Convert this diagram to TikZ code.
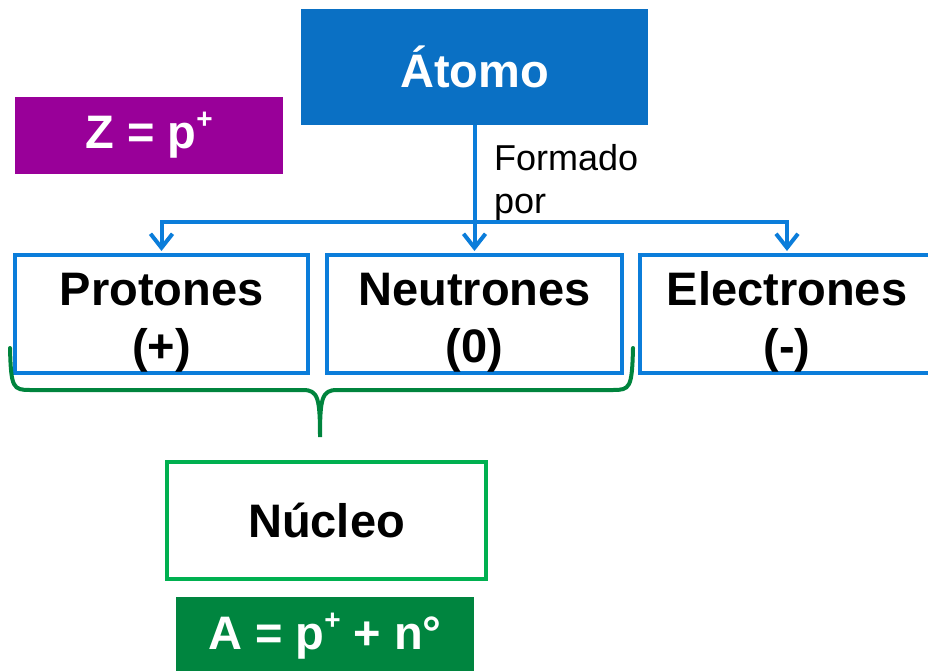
\documentclass[tikz,border=0pt]{standalone}
\usepackage{fontspec}
\setmainfont{Liberation Sans}
\usetikzlibrary{arrows.meta}
\definecolor{atomblue}{HTML}{0A70C4}
\definecolor{lineblue}{HTML}{0B7DDA}
\definecolor{bracegreen}{HTML}{00843D}
\definecolor{nucgreen}{HTML}{00B050}
\definecolor{agreen}{HTML}{00853F}
\definecolor{zpurple}{HTML}{990099}
\newcommand{\supplus}{\raisebox{0.42em}{\fontsize{28}{28}\selectfont +}}
\newcommand{\toppad}{\rule{0pt}{49pt}}
\begin{document}
\begin{tikzpicture}[x=1pt,y=-1pt,
  bigtxt/.style={font=\fontsize{47}{57}\selectfont\bfseries},
  partbox/.style={draw=lineblue, line width=4pt, fill=white, minimum height=118pt, inner sep=0pt, align=center, bigtxt},
  arr/.style={draw=lineblue, line width=4pt, -{Straight Barb[length=14pt,width=22pt,line width=4pt]}},
  filledbox/.style={inner sep=0pt, text=white, bigtxt}
]
\useasboundingbox (0,0) rectangle (928,671);
\node[filledbox, fill=atomblue, minimum width=347pt, minimum height=116pt] (atomo) at (474.5,67) {Átomo};
\node[filledbox, fill=zpurple, minimum width=268pt, minimum height=77pt] (z) at (149,135.5) {Z = p\supplus};
\node[partbox, minimum width=293pt] (protones) at (161.5,314) {\toppad Protones\\(+)};
\node[partbox, minimum width=295pt] (neutrones) at (474.5,314) {\toppad Neutrones\\(0)};
\node[partbox, minimum width=294pt] (electrones) at (787,314) {\toppad Electrones\\(-)};
\node[draw=nucgreen, line width=4pt, fill=white, minimum width=319pt, minimum height=117pt, inner sep=0pt, bigtxt] (nucleo) at (326.5,520) {Núcleo};
\node[filledbox, fill=agreen, minimum width=298pt, minimum height=78pt] (a) at (325,636) {A = p\supplus{} + n°};
\node[anchor=base west, align=left, inner sep=0pt, font=\fontsize{36}{43}\selectfont] (formado) at (494,213) {Formado\\por};
\coordinate (j) at (474.5,222);
\draw[arr, shorten >=2pt] (atomo.south) -- (neutrones.north);
\draw[arr, shorten >=2pt] (j) -| (protones.north);
\draw[arr, shorten >=2pt] (j) -| (electrones.north);
\coordinate (bl) at (10,348);
\coordinate (br) at (633,348);
\coordinate (bt) at (320,437);
\draw[bracegreen, line width=4pt, line cap=round]
  (bl) .. controls (11,388) and (13,390) .. (30,390) -- (303,390)
  .. controls (318,390) and (320,398) .. (bt)
  .. controls (320,398) and (322,390) .. (337,390) -- (613,390)
  .. controls (630,390) and (632,388) .. (br);
\end{tikzpicture}
\end{document}
